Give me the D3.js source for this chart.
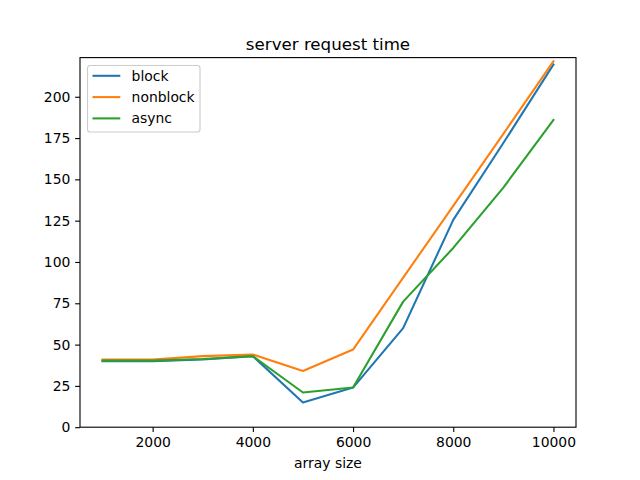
<!DOCTYPE html>
<html>
<head>
<meta charset="utf-8">
<script src="https://cdn.jsdelivr.net/npm/d3@7"></script>
<style>
  html, body { margin: 0; padding: 0; background: #fff; }
  svg { display: block; font-family: "DejaVu Sans", sans-serif; }
</style>
</head>
<body>
<svg id="chart" width="640" height="480"></svg>
<script>
const sizes = [1000, 2000, 3000, 4000, 5000, 6000, 7000, 8000, 9000, 10000];
const blockTimes = [40, 40, 41, 43, 15, 24, 60, 125.5, 172, 219.5];
const nonblockTimes = [41, 41, 43, 44, 34, 47, 90.5, 134, 177.5, 221.5];
const asyncTimes = [40.3, 40.3, 41.3, 43, 21, 24, 76, 108.5, 145, 186];
const seriesNames = ["block", "nonblock", "async"];
const seriesColors = ["#1f77b4", "#ff7f0e", "#2ca02c"];
const xTicks = [2000, 4000, 6000, 8000, 10000];
const yTicks = [0, 25, 50, 75, 100, 125, 150, 175, 200];
const titleText = "server request time";
const xLabel = "array size";

const series = [blockTimes, nonblockTimes, asyncTimes];

const svg = d3.select("#chart");
const plotLeft = 80, plotRight = 576, plotTop = 57.6, plotBottom = 427.2;

const x = d3.scaleLinear().domain([550, 10450]).range([plotLeft, plotRight]);
const y = d3.scaleLinear().domain([0, 223.7]).range([plotBottom, plotTop]);

const line = d3.line().x((d, i) => x(sizes[i])).y(d => y(d));

const g = svg.append("g");
series.forEach((s, k) => {
  g.append("path")
    .datum(s)
    .attr("fill", "none")
    .attr("stroke", seriesColors[k])
    .attr("stroke-width", 2.08)
    .attr("stroke-linejoin", "round")
    .attr("stroke-linecap", "square")
    .attr("d", line);
});

// axes
const xAxis = d3.axisBottom(x).tickValues(xTicks).tickSize(4.86).tickPadding(4.8).tickFormat(d3.format("d"));
const yAxis = d3.axisLeft(y).tickValues(yTicks).tickSize(4.86).tickPadding(4.8).tickFormat(d3.format("d"));

const gx = svg.append("g").attr("transform", `translate(0,${plotBottom})`).call(xAxis);
const gy = svg.append("g").attr("transform", `translate(${plotLeft},0)`).call(yAxis);
[gx, gy].forEach(a => {
  a.select(".domain").remove();
  a.selectAll(".tick line").attr("stroke", "#000").attr("stroke-width", 1.11);
  a.selectAll(".tick text").attr("fill", "#000").style("font-size", "13.9px").style("font-family", "DejaVu Sans");
});

// frame
svg.append("rect")
  .attr("x", plotLeft).attr("y", plotTop)
  .attr("width", plotRight - plotLeft).attr("height", plotBottom - plotTop)
  .attr("fill", "none").attr("stroke", "#000").attr("stroke-width", 1.11);

// title
svg.append("text")
  .attr("x", (plotLeft + plotRight) / 2).attr("y", 49.5)
  .attr("text-anchor", "middle")
  .style("font-size", "16.67px")
  .text(titleText);

// x label
svg.append("text")
  .attr("x", (plotLeft + plotRight) / 2).attr("y", 467.5)
  .attr("text-anchor", "middle")
  .style("font-size", "13.9px")
  .text(xLabel);

// legend
const lg = svg.append("g");
lg.append("rect")
  .attr("x", 87.5).attr("y", 65.5)
  .attr("width", 112.5).attr("height", 66.5)
  .attr("rx", 2.8).attr("ry", 2.8)
  .attr("fill", "#fff").attr("fill-opacity", 0.8)
  .attr("stroke", "#cccccc").attr("stroke-width", 1.11);
seriesNames.forEach((name, k) => {
  const yy = 75.8 + k * 21.3;
  lg.append("line")
    .attr("x1", 92.5).attr("x2", 120.3)
    .attr("y1", yy).attr("y2", yy)
    .attr("stroke", seriesColors[k]).attr("stroke-width", 2.08);
  lg.append("text")
    .attr("x", 131.6).attr("y", yy + 5)
    .style("font-size", "13.9px")
    .text(name);
});
</script>
</body>
</html>
